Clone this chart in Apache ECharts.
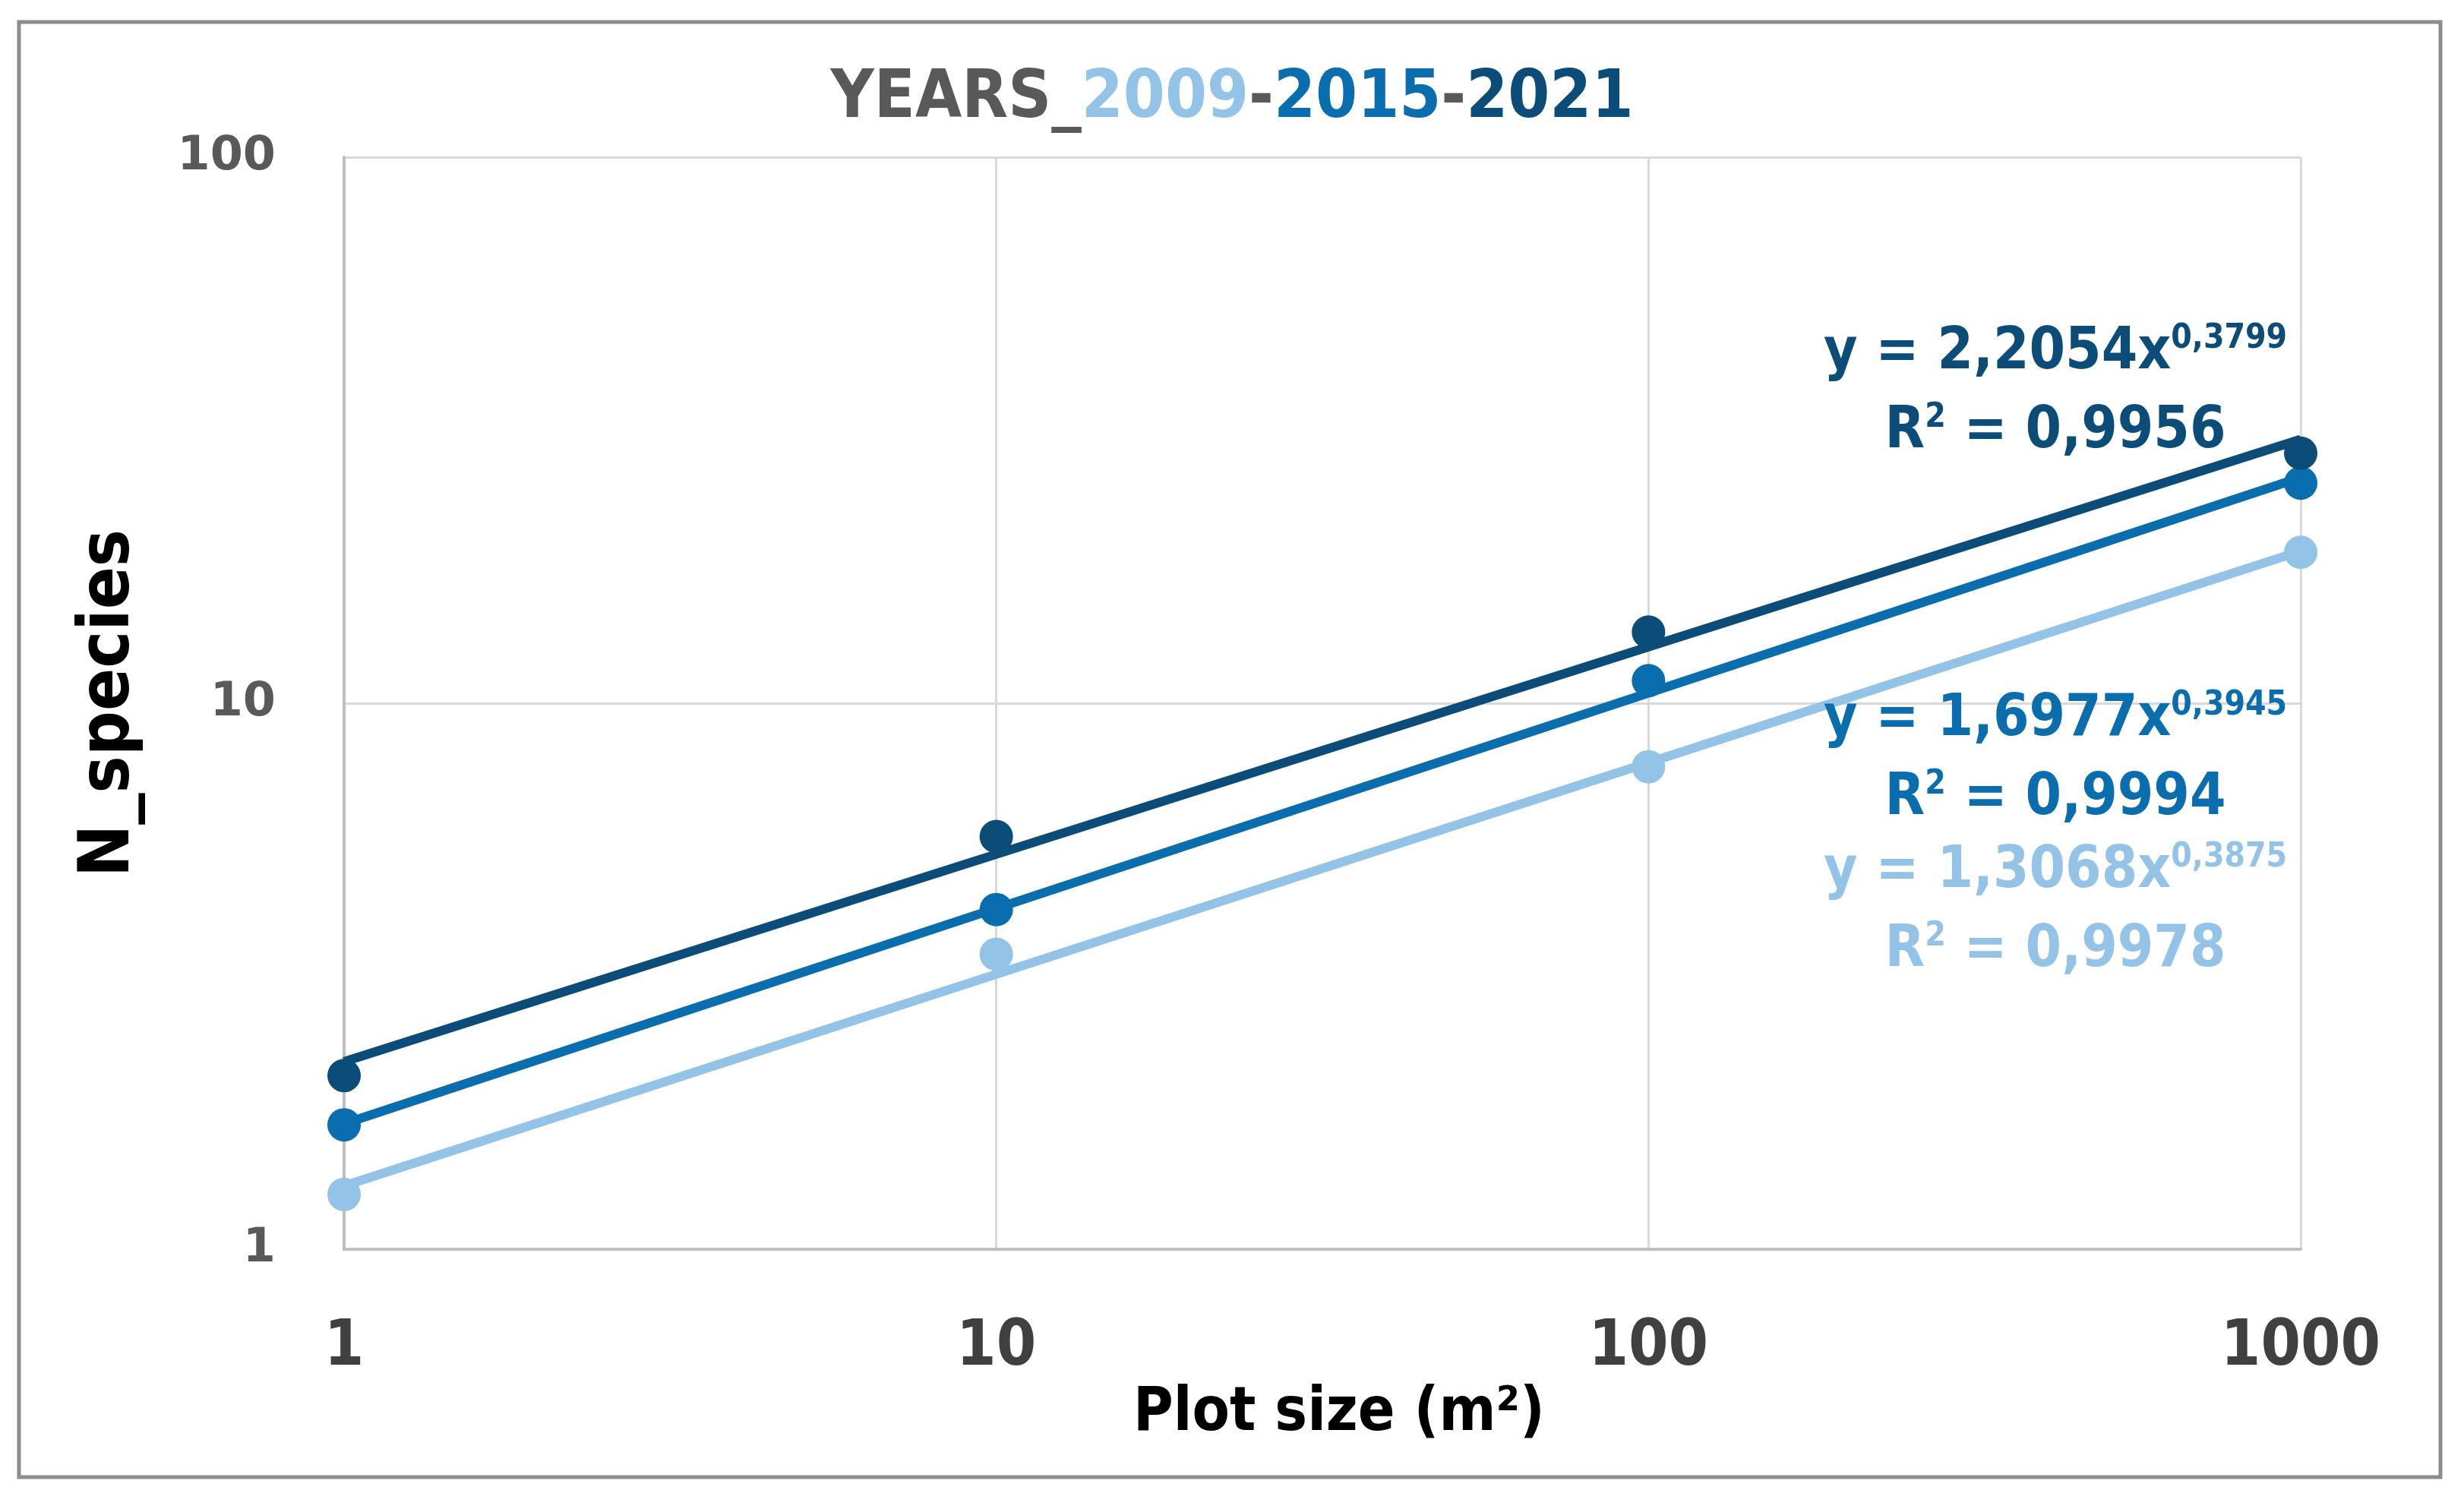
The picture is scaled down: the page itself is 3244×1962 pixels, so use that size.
<!DOCTYPE html>
<html><head><meta charset="utf-8">
<script src="https://cdn.jsdelivr.net/npm/echarts@6/dist/echarts.min.js"></script>
<style>html,body{margin:0;padding:0;background:#fff}#c{width:3244px;height:1962px}</style>
</head><body><div id="c"></div>
<script>
// ---- data ----
const plotSizes = [1, 10, 100, 1000];
const years = ['2009', '2015', '2021'];
const species2009 = [1.26, 3.47, 7.65, 18.9];
const species2015 = [1.69, 4.19, 11.0, 25.3];
const species2021 = [2.08, 5.70, 13.5, 28.7];
// power trendline coefficients as printed on the chart: y = a * x^b
const trendA = [1.3068, 1.6977, 2.2054];
const trendB = [0.3875, 0.3945, 0.3799];
const trendR2 = ['0,9978', '0,9994', '0,9956'];
const xTicks = [1, 10, 100, 1000];
const yTicks = [1, 10, 100];

const colors = ['#93C3E6', '#0A6DAD', '#0B4C79'];
const FONT = "'Liberation Sans Narrow','DejaVu Sans Condensed','Roboto Condensed',sans-serif";

const allSpecies = [species2009, species2015, species2021];
const series = [];
allSpecies.forEach((vals, i) => {
  series.push({
    name: years[i], type: 'scatter', symbol: 'circle', symbolSize: 44, z: 3,
    itemStyle: { color: colors[i], opacity: 1 },
    data: plotSizes.map((x, k) => [x, vals[k]])
  });
});
allSpecies.forEach((vals, i) => {
  series.push({
    name: years[i] + ' trend', type: 'line', showSymbol: false, z: 4,
    lineStyle: { color: colors[i], width: 12 },
    data: plotSizes.map(x => [x, trendA[i] * Math.pow(x, trendB[i])])
  });
});

function fmt(n) { return String(n).replace('.', ','); }
function eqGraphic(i, cy) {
  const col = colors[i];
  return [{
    type: 'text', x: 2706, y: cy, z: 10,
    style: {
      align: 'center', verticalAlign: 'middle',
      text: '{t|y = ' + fmt(trendA[i]) + 'x}{s|' + fmt(trendB[i]) + '}',
      rich: {
        t: { fontFamily: FONT, fontWeight: 'bold', fontSize: 76, fill: col, lineHeight: 96 },
        s: { fontFamily: FONT, fontWeight: 'bold', fontSize: 44, fill: col, lineHeight: 96, padding: [0, 0, 36, 0] }
      }
    }
  }, {
    type: 'text', x: 2706, y: cy + 104, z: 10,
    style: {
      align: 'center', verticalAlign: 'middle',
      text: '{t|R}{s|2}{t| = ' + trendR2[i] + '}',
      rich: {
        t: { fontFamily: FONT, fontWeight: 'bold', fontSize: 76, fill: col, lineHeight: 96 },
        s: { fontFamily: FONT, fontWeight: 'bold', fontSize: 44, fill: col, lineHeight: 96, padding: [0, 0, 36, 0] }
      }
    }
  }];
}

const chart = echarts.init(document.getElementById('c'));
chart.setOption({
  animation: false,
  backgroundColor: '#fff',
  title: {
    left: 'center', top: 82,
    text: '{g|YEARS_}{l|' + years[0] + '}{g|-}{m|' + years[1] + '}{g|-}{d|' + years[2] + '}',
    textStyle: {
      rich: {
        g: { fontFamily: FONT, fontWeight: 'bold', fontSize: 88, color: '#595959' },
        l: { fontFamily: FONT, fontWeight: 'bold', fontSize: 88, color: colors[0] },
        m: { fontFamily: FONT, fontWeight: 'bold', fontSize: 88, color: colors[1] },
        d: { fontFamily: FONT, fontWeight: 'bold', fontSize: 88, color: colors[2] }
      }
    }
  },
  grid: { left: 453, right: 215, top: 207, bottom: 317, containLabel: false },
  xAxis: {
    type: 'log', logBase: 10, min: 1, max: 1000,
    name: 'Plot size (m²)', nameLocation: 'middle', nameGap: 148,
    nameTextStyle: { fontFamily: FONT, fontWeight: 'bold', fontSize: 80, color: '#000', padding: [0, 0, 0, 44] },
    axisLine: { lineStyle: { color: '#BFBFBF', width: 4 } },
    axisTick: { show: false },
    axisLabel: { fontFamily: FONT, fontWeight: 'bold', fontSize: 84, color: '#404040', margin: 88,
      formatter: v => xTicks.includes(Math.round(v)) ? String(Math.round(v)) : '' },
    splitLine: { show: true, lineStyle: { color: '#D9D9D9', width: 3 } }
  },
  yAxis: {
    type: 'log', logBase: 10, min: 1, max: 100,
    name: 'N_species', nameLocation: 'middle', nameGap: 262,
    nameTextStyle: { fontFamily: FONT, fontWeight: 'bold', fontSize: 92, color: '#000' },
    axisLine: { show: true, lineStyle: { color: '#BFBFBF', width: 4 } },
    axisTick: { show: false },
    axisLabel: { fontFamily: "'DejaVu Sans',sans-serif", fontWeight: 'bold', fontSize: 62, color: '#595959', margin: 90,
      formatter: v => yTicks.includes(Math.round(v)) ? String(Math.round(v)) : '' },
    splitLine: { show: true, lineStyle: { color: '#D9D9D9', width: 3 } }
  },
  graphic: [
    { type: 'rect', shape: { x: 25, y: 29, width: 3188, height: 1916 }, style: { fill: 'none', stroke: '#8C8C8C', lineWidth: 5 }, silent: true },
    ...eqGraphic(2, 465),
    ...eqGraphic(1, 948),
    ...eqGraphic(0, 1148)
  ],
  series: series
});
</script></body></html>
